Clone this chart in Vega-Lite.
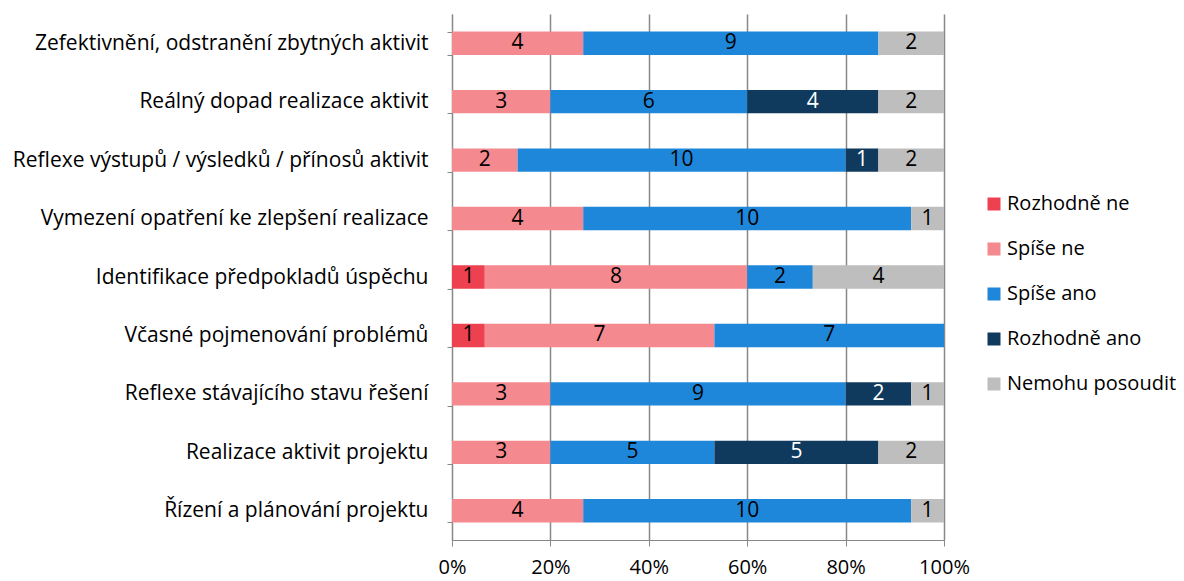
{
  "$schema": "https://vega.github.io/schema/vega-lite/v6.json",
  "width": 492,
  "height": 526,
  "autosize": {"type": "none"},
  "padding": {"left": 452, "top": 14, "right": 240, "bottom": 41},
  "background": "white",
  "config": {
    "font": "Open Sans",
    "view": {"stroke": null}
  },
  "data": {
    "values": [
      {"item": "Zefektivnění, odstranění zbytných aktivit", "answer": "Spíše ne", "n": 4},
      {"item": "Zefektivnění, odstranění zbytných aktivit", "answer": "Spíše ano", "n": 9},
      {"item": "Zefektivnění, odstranění zbytných aktivit", "answer": "Nemohu posoudit", "n": 2},
      {"item": "Reálný dopad realizace aktivit", "answer": "Spíše ne", "n": 3},
      {"item": "Reálný dopad realizace aktivit", "answer": "Spíše ano", "n": 6},
      {"item": "Reálný dopad realizace aktivit", "answer": "Rozhodně ano", "n": 4},
      {"item": "Reálný dopad realizace aktivit", "answer": "Nemohu posoudit", "n": 2},
      {"item": "Reflexe výstupů / výsledků / přínosů aktivit", "answer": "Spíše ne", "n": 2},
      {"item": "Reflexe výstupů / výsledků / přínosů aktivit", "answer": "Spíše ano", "n": 10},
      {"item": "Reflexe výstupů / výsledků / přínosů aktivit", "answer": "Rozhodně ano", "n": 1},
      {"item": "Reflexe výstupů / výsledků / přínosů aktivit", "answer": "Nemohu posoudit", "n": 2},
      {"item": "Vymezení opatření ke zlepšení realizace", "answer": "Spíše ne", "n": 4},
      {"item": "Vymezení opatření ke zlepšení realizace", "answer": "Spíše ano", "n": 10},
      {"item": "Vymezení opatření ke zlepšení realizace", "answer": "Nemohu posoudit", "n": 1},
      {"item": "Identifikace předpokladů úspěchu", "answer": "Rozhodně ne", "n": 1},
      {"item": "Identifikace předpokladů úspěchu", "answer": "Spíše ne", "n": 8},
      {"item": "Identifikace předpokladů úspěchu", "answer": "Spíše ano", "n": 2},
      {"item": "Identifikace předpokladů úspěchu", "answer": "Nemohu posoudit", "n": 4},
      {"item": "Včasné pojmenování problémů", "answer": "Rozhodně ne", "n": 1},
      {"item": "Včasné pojmenování problémů", "answer": "Spíše ne", "n": 7},
      {"item": "Včasné pojmenování problémů", "answer": "Spíše ano", "n": 7},
      {"item": "Reflexe stávajícího stavu řešení", "answer": "Spíše ne", "n": 3},
      {"item": "Reflexe stávajícího stavu řešení", "answer": "Spíše ano", "n": 9},
      {"item": "Reflexe stávajícího stavu řešení", "answer": "Rozhodně ano", "n": 2},
      {"item": "Reflexe stávajícího stavu řešení", "answer": "Nemohu posoudit", "n": 1},
      {"item": "Realizace aktivit projektu", "answer": "Spíše ne", "n": 3},
      {"item": "Realizace aktivit projektu", "answer": "Spíše ano", "n": 5},
      {"item": "Realizace aktivit projektu", "answer": "Rozhodně ano", "n": 5},
      {"item": "Realizace aktivit projektu", "answer": "Nemohu posoudit", "n": 2},
      {"item": "Řízení a plánování projektu", "answer": "Spíše ne", "n": 4},
      {"item": "Řízení a plánování projektu", "answer": "Spíše ano", "n": 10},
      {"item": "Řízení a plánování projektu", "answer": "Nemohu posoudit", "n": 1}
    ]
  },
  "transform": [
    {"calculate": "indexof(['Rozhodně ne','Spíše ne','Spíše ano','Rozhodně ano','Nemohu posoudit'], datum.answer)", "as": "ord"},
    {"stack": "n", "groupby": ["item"], "sort": [{"field": "ord", "order": "ascending"}], "offset": "normalize", "as": ["x0", "x1"]},
    {"calculate": "(datum.x0 + datum.x1) / 2", "as": "xm"}
  ],
  "encoding": {
    "y": {
      "field": "item",
      "type": "nominal",
      "sort": null,
      "title": null,
      "scale": {"paddingInner": 0.6, "paddingOuter": 0.3},
      "axis": {
        "tickBand": "extent",
        "tickSize": 5,
        "tickColor": "#888888",
        "domainColor": "#888888",
        "labelFontSize": 21,
        "labelColor": "#000000",
        "labelPadding": 19,
        "labelLimit": 450
      }
    }
  },
  "layer": [
    {
      "mark": {"type": "bar"},
      "encoding": {
        "x": {
          "field": "x0",
          "type": "quantitative",
          "scale": {"domain": [0, 1]},
          "title": null,
          "axis": {
            "format": "%",
            "values": [0, 0.2, 0.4, 0.6, 0.8, 1],
            "grid": true,
            "gridColor": "#888888",
            "gridWidth": 1.5,
            "tickColor": "#888888",
            "domainColor": "#888888",
            "tickSize": 6,
            "labelFontSize": 20,
            "labelColor": "#000000",
            "labelPadding": 11,
            "labelFlush": false
          }
        },
        "x2": {"field": "x1"},
        "color": {
          "field": "answer",
          "type": "nominal",
          "scale": {
            "domain": ["Rozhodně ne", "Spíše ne", "Spíše ano", "Rozhodně ano", "Nemohu posoudit"],
            "range": ["#EE4150", "#F4898F", "#1F87DA", "#0F3A5E", "#BEBEBE"]
          },
          "legend": {
            "title": null,
            "orient": "none",
            "legendX": 532,
            "legendY": 180,
            "symbolType": "square",
            "symbolSize": 169,
            "symbolStrokeWidth": 0,
            "labelFontSize": 20,
            "labelLimit": 300,
            "labelColor": "#000000",
            "rowPadding": 25,
            "labelOffset": 3
          }
        }
      }
    },
    {
      "mark": {"type": "text", "fontSize": 21, "baseline": "middle", "align": "center"},
      "encoding": {
        "x": {"field": "xm", "type": "quantitative"},
        "text": {"field": "n", "type": "quantitative"},
        "color": {
          "condition": {"test": "datum.answer === 'Rozhodně ano'", "value": "#FFFFFF"},
          "value": "#000000"
        }
      }
    }
  ]
}
